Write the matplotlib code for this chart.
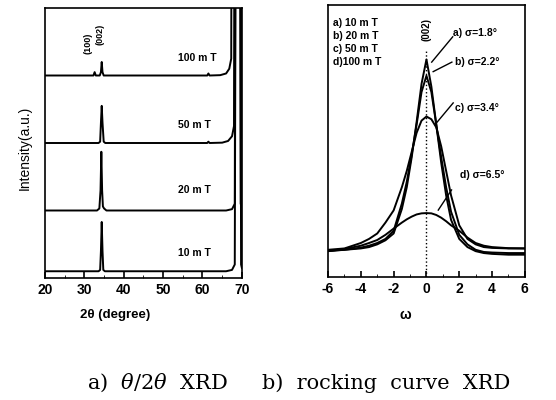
import matplotlib
matplotlib.use('Agg')
import matplotlib.pyplot as plt
from matplotlib.ticker import MultipleLocator

plt.rcParams['font.family'] = ['Liberation Sans', 'DejaVu Sans']
plt.rcParams['axes.unicode_minus'] = False
plt.rcParams['mathtext.fontset'] = 'dejavuserif'

# ---- theta/2theta XRD traces (relative intensity, stacked) ----
field_labels = ['10 m T', '20 m T', '50 m T', '100 m T']
offsets = [0.1, 1.0, 2.0, 3.0]

tt_10_x = [20, 33.6, 34.0, 34.2, 34.4, 34.6, 34.8, 35.2, 66.0, 67.5, 68.2, 68.6, 69.5, 69.8, 70]
tt_10_y = [0, 0, 0.02, 0.3, 0.73, 0.3, 0.02, 0, 0, 0.02, 0.1, 9, 9, 0.1, 0.05]

tt_20_x = [20, 33.2, 33.8, 34.1, 34.3, 34.5, 34.7, 35.0, 35.6, 66.0, 67.5, 68.2, 68.5, 69.4, 69.7, 70]
tt_20_y = [0, 0, 0.03, 0.3, 0.87, 0.3, 0.06, 0.03, 0, 0, 0.02, 0.1, 9, 9, 0.1, 0.05]

tt_50_x = [20, 33.6, 34.0, 34.2, 34.4, 34.6, 34.9, 35.3, 61.2, 61.5, 61.8, 65.0, 66.5, 67.5, 68.0, 68.3, 69.6, 69.9, 70]
tt_50_y = [0, 0, 0.02, 0.3, 0.55, 0.3, 0.02, 0, 0, 0.02, 0, 0.005, 0.03, 0.1, 0.25, 9, 9, 0.15, 0.08]

tt_100_x = [20, 32.3, 32.6, 32.9, 33.9, 34.2, 34.4, 34.6, 34.9, 61.2, 61.5, 61.8, 64.5, 66.0, 66.8, 67.3, 67.6, 69.6, 69.9, 70]
tt_100_y = [0, 0, 0.05, 0, 0, 0.05, 0.2, 0.05, 0, 0, 0.03, 0, 0.005, 0.03, 0.1, 0.25, 9, 9, 0.2, 0.1]

# ---- rocking curves ----
rock_x = [-6, -5, -4, -3.5, -3, -2.5, -2, -1.5, -1.2, -0.9, -0.6, -0.3, 0,
          0.3, 0.6, 0.9, 1.2, 1.5, 2, 2.5, 3, 3.5, 4, 5, 6]
rock_a = [0.095, 0.10, 0.105, 0.11, 0.12, 0.135, 0.16, 0.25, 0.33, 0.44, 0.57, 0.71, 0.80,
          0.70, 0.56, 0.42, 0.30, 0.21, 0.14, 0.11, 0.095, 0.088, 0.085, 0.082, 0.082]
rock_b = [0.097, 0.10, 0.108, 0.115, 0.125, 0.14, 0.17, 0.27, 0.35, 0.45, 0.56, 0.68, 0.74,
          0.68, 0.56, 0.44, 0.33, 0.24, 0.155, 0.12, 0.10, 0.092, 0.09, 0.088, 0.088]
rock_c = [0.10, 0.105, 0.125, 0.14, 0.16, 0.20, 0.245, 0.33, 0.39, 0.46, 0.53, 0.575, 0.59,
          0.58, 0.55, 0.48, 0.39, 0.30, 0.19, 0.14, 0.12, 0.11, 0.107, 0.105, 0.105]
rock_d = [0.095, 0.103, 0.115, 0.125, 0.136, 0.155, 0.178, 0.20, 0.212, 0.222, 0.23, 0.234, 0.235,
          0.234, 0.228, 0.218, 0.205, 0.19, 0.17, 0.145, 0.125, 0.115, 0.11, 0.106, 0.105]
legend_lines = ['a) 10 m T', 'b) 20 m T', 'c) 50 m T', 'd)100 m T']
sigma_labels = ['a) σ=1.8°', 'b) σ=2.2°', 'c) σ=3.4°', 'd) σ=6.5°']

fig = plt.figure(figsize=(5.56, 4.0), dpi=100)
ax1 = fig.add_axes([0.081, 0.305, 0.354, 0.675])
ax2 = fig.add_axes([0.590, 0.3075, 0.354, 0.68])

# left panel
traces = [(tt_10_x, tt_10_y), (tt_20_x, tt_20_y), (tt_50_x, tt_50_y), (tt_100_x, tt_100_y)]
for (tx, ty), off in zip(traces, offsets):
    ax1.plot(tx, [v + off for v in ty], color='black', lw=1.4)
ax1.set_xlim(20, 70)
ax1.set_ylim(0, 4)
ax1.set_yticks([])
ax1.xaxis.set_major_locator(MultipleLocator(10))
ax1.xaxis.set_minor_locator(MultipleLocator(5))
ax1.tick_params(axis='x', direction='in', labelsize=10, width=1.2, length=4)
ax1.tick_params(axis='x', which='minor', direction='in', length=2.5)
for lab, ly in zip(field_labels, [0.37, 1.30, 2.27, 3.26]):
    ax1.text(53.8, ly, lab, fontsize=7.5, fontweight='bold', va='center')
ax1.text(31.0, 3.47, '(100)', rotation=90, fontsize=6.5, fontweight='bold',
         ha='center', va='center')
ax1.text(34.0, 3.61, '(002)', rotation=90, fontsize=6.5, fontweight='bold',
         ha='center', va='center')
for s in ax1.spines.values():
    s.set_linewidth(1.2)

# right panel
for ry in [rock_a, rock_b, rock_c, rock_d]:
    ax2.plot(rock_x, ry, color='black', lw=1.4)
ax2.plot([0, 0], [0, 0.84], color='black', lw=1.0, ls=':')
ax2.text(0, 0.91, '(002)', rotation=90, fontsize=7, fontweight='bold',
         ha='center', va='center')
ax2.set_xlim(-6, 6)
ax2.set_ylim(0, 1)
ax2.set_yticks([])
ax2.xaxis.set_major_locator(MultipleLocator(2))
ax2.xaxis.set_minor_locator(MultipleLocator(1))
ax2.tick_params(axis='x', direction='in', labelsize=10, width=1.2, length=4)
ax2.tick_params(axis='x', which='minor', direction='in', length=2.5)
for s in ax2.spines.values():
    s.set_linewidth(1.2)
for i, lab in enumerate(legend_lines):
    ax2.text(0.025, 0.934 - i * 0.048, lab, transform=ax2.transAxes,
             fontsize=7.5, fontweight='bold', va='center')

for ax in (ax1, ax2):
    plt.setp(ax.get_xticklabels(), fontweight='bold')

# sigma annotations: text position, line start, line end
sig_text = [(1.6, 0.897), (1.74, 0.79), (1.74, 0.62), (2.04, 0.375)]
sig_from = [(1.6, 0.883), (1.55, 0.79), (1.63, 0.64), (1.53, 0.32)]
sig_to = [(0.32, 0.79), (0.41, 0.755), (0.52, 0.56), (0.72, 0.246)]
for lab, tp, p0, p1 in zip(sigma_labels, sig_text, sig_from, sig_to):
    ax2.text(tp[0], tp[1], lab, fontsize=7.5, fontweight='bold', va='center')
    ax2.plot([p0[0], p1[0]], [p0[1], p1[1]], color='black', lw=1.0)

# axis labels and captions
fig.text(25 / 556, 1 - 148 / 400, 'Intensity(a.u.)', rotation=90, fontsize=10,
         ha='center', va='center')
fig.text(115 / 556, 1 - 315 / 400, '2θ (degree)', fontsize=9.5,
         fontweight='bold', ha='center', va='center')
fig.text(405 / 556, 1 - 315 / 400, 'ω', fontsize=10, fontweight='bold',
         ha='center', va='center')
fig.text(157 / 556, 1 - 383 / 400, r'a)  $\theta$/2$\theta$  XRD', family='DejaVu Serif',
         fontsize=15, ha='center', va='center')
fig.text(386 / 556, 1 - 383 / 400, 'b)  rocking  curve  XRD', family='DejaVu Serif',
         fontsize=15, ha='center', va='center')

fig.savefig('out.png', dpi=100)
